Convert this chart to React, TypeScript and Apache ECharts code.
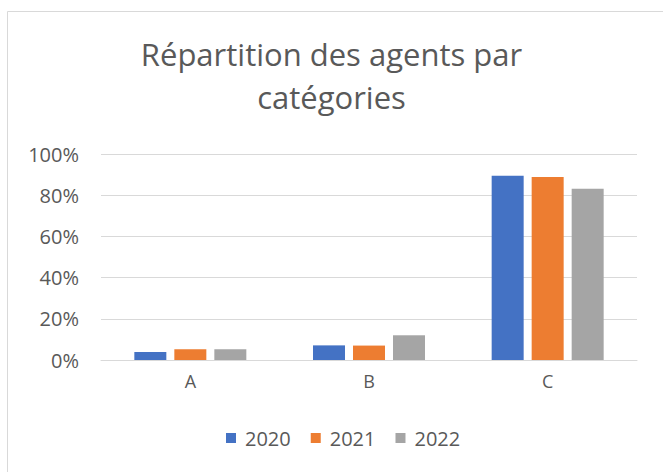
import React, { useEffect, useRef } from "react";
import * as echarts from "echarts";

const categories = ["A", "B", "C"];
const seriesNames = ["2020", "2021", "2022"];
const values2020 = [3.9, 7.1, 89.4];
const values2021 = [5.2, 7.0, 88.8];
const values2022 = [5.2, 12.0, 83.1];
const colors = ["#4472C4", "#ED7D31", "#A5A5A5"];

export default function App() {
  const ref = useRef<HTMLDivElement>(null);
  useEffect(() => {
    if (!ref.current) return;
    const chart = echarts.init(ref.current, undefined, { renderer: "svg" });
    const font = "'Open Sans', 'Noto Sans', sans-serif";
    const data = [values2020, values2021, values2022];
    chart.setOption({
      animation: false,
      backgroundColor: "#ffffff",
      color: colors,
      title: {
        text: "Répartition des agents par\ncatégories",
        left: "center",
        top: 27,
        textStyle: {
          fontFamily: font,
          fontSize: 31,
          fontWeight: "normal",
          color: "#595959",
          lineHeight: 43,
        },
      },
      graphic: [
        {
          type: "rect",
          shape: { x: 7.5, y: 11.5, width: 700, height: 500 },
          style: { fill: "none", stroke: "#d9d9d9", lineWidth: 1 },
          silent: true,
        },
      ],
      legend: {
        data: seriesNames,
        bottom: 19,
        left: 221,
        itemWidth: 10,
        itemHeight: 10,
        itemGap: 20,
        icon: "rect",
        textStyle: {
          fontFamily: font,
          fontSize: 20,
          color: "#595959",
          padding: [0, 0, 0, 4],
        },
      },
      grid: { left: 101, right: 26, top: 154, bottom: 112 },
      xAxis: {
        type: "category",
        data: categories,
        axisLine: { lineStyle: { color: "#d9d9d9", width: 1 } },
        axisTick: { show: false },
        axisLabel: { fontFamily: font, fontSize: 18, color: "#595959", margin: 12 },
      },
      yAxis: {
        type: "value",
        min: 0,
        max: 100,
        interval: 20,
        axisLine: { show: false },
        axisTick: { show: false },
        splitLine: { lineStyle: { color: "#d9d9d9", width: 1 } },
        axisLabel: {
          fontFamily: font,
          fontSize: 20,
          color: "#595959",
          margin: 22,
          formatter: (v: number) => v + "%",
        },
      },
      series: seriesNames.map((name, i) => ({
        name,
        type: "bar",
        data: data[i],
        barWidth: 32,
        barGap: "25%",
        itemStyle: { color: colors[i] },
      })),
    });
    return () => chart.dispose();
  }, []);
  return (
    <div
      ref={ref}
      style={{ position: "fixed", left: 0, top: 0, width: 663, height: 472 }}
    />
  );
}
